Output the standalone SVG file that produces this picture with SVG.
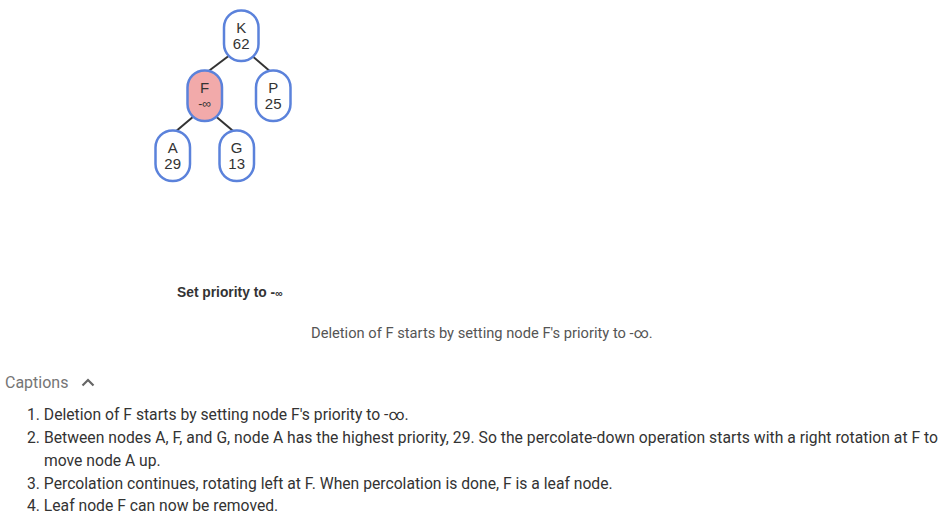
<svg xmlns="http://www.w3.org/2000/svg" width="948" height="527" viewBox="0 0 948 527">
<style>
.node rect{fill:#fff;stroke:#5b82db;stroke-width:2.5}
.node.hl rect{fill:#f2aaaa}
.node text{font-family:"Liberation Sans",Arial,sans-serif;font-size:15px;fill:#333;text-anchor:middle}
.edge{stroke:#333;stroke-width:2}
.cap{font-family:Roboto,"Liberation Sans",sans-serif;font-size:15.7px;fill:#333}
</style>
<rect width="948" height="527" fill="#fff"/>
<g id="connectors">
<line class="edge" x1="241.2" y1="46.5" x2="204.7" y2="74"/>
<line class="edge" x1="241.2" y1="46.5" x2="273.2" y2="74"/>
<line class="edge" x1="204.7" y1="107" x2="172.7" y2="134"/>
<line class="edge" x1="204.7" y1="107" x2="236.7" y2="134"/>
</g>
<g id="node-K" class="node"><rect x="224" y="10.5" width="34.5" height="50.5" rx="17"/><text x="241.2" y="33">K</text><text x="241.2" y="48.5">62</text></g>
<g id="node-F" class="node hl"><rect x="187.5" y="70.5" width="34.5" height="50.5" rx="17"/><text x="204.7" y="93">F</text><text x="204.7" y="108" style="font-size:12.5px">-∞</text></g>
<g id="node-P" class="node"><rect x="256" y="70.5" width="34.5" height="50.5" rx="17"/><text x="273.2" y="93">P</text><text x="273.2" y="108.5">25</text></g>
<g id="node-A" class="node"><rect x="155.5" y="130.5" width="34.5" height="50.5" rx="17"/><text x="172.7" y="153">A</text><text x="172.7" y="168.5">29</text></g>
<g id="node-G" class="node"><rect x="219.5" y="130.5" width="34.5" height="50.5" rx="17"/><text x="236.7" y="153">G</text><text x="236.7" y="168.5">13</text></g>
<text x="177" y="297" style="font-family:'Liberation Sans',Arial,sans-serif;font-size:13.8px;font-weight:bold;fill:#333">Set priority to -<tspan style="font-size:10.5px">∞</tspan></text>
<text x="311" y="338" style="font-family:Roboto,'Liberation Sans',sans-serif;font-size:14.7px;fill:#555">Deletion of F starts by setting node F's priority to -∞.</text>
<text x="5" y="388" style="font-family:Roboto,'Liberation Sans',sans-serif;font-size:16px;fill:#757575">Captions</text>
<polyline points="82.5,385.5 88,380 93.5,385.5" fill="none" stroke="#666" stroke-width="2.2"/>
<text class="cap" x="27" y="420">1. Deletion of F starts by setting node F's priority to -∞.</text>
<text class="cap" x="27" y="443" textLength="911" lengthAdjust="spacing">2. Between nodes A, F, and G, node A has the highest priority, 29. So the percolate-down operation starts with a right rotation at F to</text>
<text class="cap" x="44" y="466">move node A up.</text>
<text class="cap" x="27" y="489">3. Percolation continues, rotating left at F. When percolation is done, F is a leaf node.</text>
<text class="cap" x="27" y="511">4. Leaf node F can now be removed.</text>
</svg>
